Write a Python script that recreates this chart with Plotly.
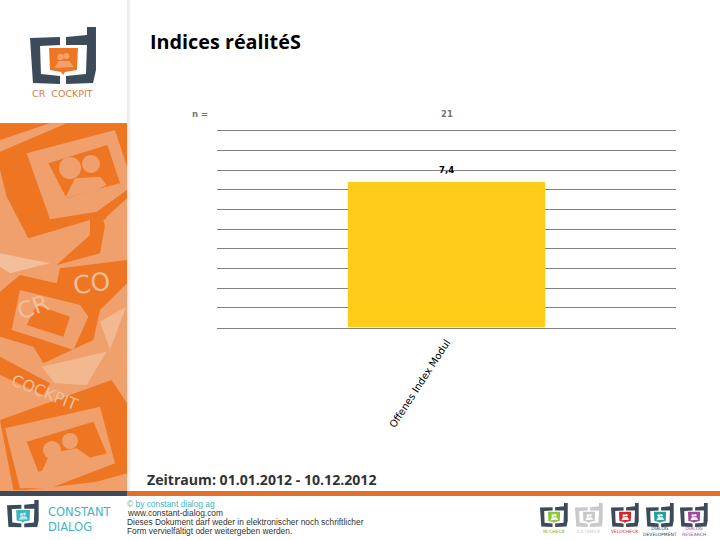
import plotly.graph_objects as go

categories = ["Offenes Index Modul"]
values = [7.4]
value_labels = ["7,4"]
n_label = "n ="
n_values = ["21"]
y_ticks = list(range(0, 11))

ORANGE = "#EE7623"
ORANGE_LIGHT = "#EFA06C"
ORANGE_PALE = "#F3BE9A"
SLATE = "#3C4A5A"


def px(x, y):
    return f"{x / 720:.4f}", f"{1 - y / 540:.4f}"


def poly(points, color, layer="below", opacity=1):
    path = "M" + " L".join("{} {}".format(*px(x, y)) for x, y in points) + " Z"
    return dict(type="path", xref="paper", yref="paper", path=path,
                fillcolor=color, line_width=0, layer=layer, opacity=opacity)


def rect(x0, y0, x1, y1, color, opacity=1):
    return poly([(x0, y0), (x1, y0), (x1, y1), (x0, y1)], color, opacity=opacity)


def disc(cx, cy, r, color):
    x0, y0 = px(cx - r, cy + r)
    x1, y1 = px(cx + r, cy - r)
    return dict(type="circle", xref="paper", yref="paper", x0=x0, y0=y0, x1=x1, y1=y1,
                fillcolor=color, line_width=0, layer="below")


def side(points):
    return [(x / 3, 120 + y / 3) for x, y in points]


def person(x, y, s, color):
    # two heads and shoulders, (x, y) is the centre of the screen
    return [
        disc(x - 3 * s, y - 3 * s, 3.2 * s, color),
        disc(x + 3 * s, y - 4 * s, 3 * s, color),
        poly([(x - 9 * s, y + 8 * s), (x - 5 * s, y + 1 * s), (x + 6 * s, y + 1 * s),
              (x + 10 * s, y + 7 * s)], color),
    ]


def logo(x, y, s, dark, accent, light):
    # "cd" mark, x/y is the top left corner of the d stem box
    def p(pts):
        return [(x + a * s, y + b * s) for a, b in pts]
    out = [
        poly(p([(0, 11), (30, 10), (30, 18), (10, 19), (11, 47), (30, 49), (30, 57), (3, 56)]), dark),
        poly(p([(36, 10), (57, 8), (57, 0), (66, 0), (66, 43), (63, 56), (36, 57), (36, 49),
                (56, 47), (57, 18), (36, 18)]), dark),
        poly(p([(19, 21), (48, 21), (47, 43), (35, 45), (33, 48), (31, 45), (20, 43)]), accent),
    ]
    return out + person(x + 33.5 * s, y + 33 * s, s, light)


shapes = [
    # sidebar
    rect(127, 0, 129, 491, "#EAEAEA"),
    rect(129, 0, 131, 491, "#F7F7F7"),
    rect(0, 123, 127, 491, ORANGE_LIGHT),
    poly(side([(0, 10), (150, 10), (0, 60)]), ORANGE),
    poly(side([(200, 10), (381, 10), (381, 235), (320, 290), (300, 400), (170, 435), (270, 345),
               (270, 300), (85, 355), (20, 230), (0, 150), (0, 95)]), ORANGE),
    poly(side([(80, 100), (345, 30), (381, 140), (381, 210), (290, 275), (150, 298)]), ORANGE_LIGHT),
    poly(side([(145, 130), (322, 75), (360, 190), (290, 208), (200, 235)]), ORANGE),
    disc(70, 168, 11, ORANGE_LIGHT),
    disc(91, 164, 9, ORANGE_LIGHT),
    poly(side([(195, 235), (225, 175), (300, 170), (320, 195), (290, 210)]), ORANGE_LIGHT),
    poly(side([(310, 300), (381, 265), (381, 365), (330, 380)]), ORANGE_LIGHT),
    poly(side([(0, 400), (150, 430), (30, 460), (0, 440)]), ORANGE_PALE),
    # middle bubble
    poly(side([(0, 515), (60, 465), (170, 490), (180, 445), (381, 420), (381, 490), (300, 570),
               (280, 660), (130, 730), (100, 680), (0, 650)]), ORANGE),
    poly(side([(35, 630), (60, 510), (240, 555), (265, 590), (220, 690), (130, 660)]), ORANGE_LIGHT),
    poly(side([(80, 615), (110, 555), (210, 590), (190, 650)]), ORANGE),
    poly(side([(300, 605), (378, 560), (330, 690)]), ORANGE_PALE, opacity=0.8),
    poly(side([(125, 740), (320, 695), (260, 795), (165, 790)]), ORANGE_PALE, opacity=0.8),
    # lower left strips and bubble
    poly(side([(0, 710), (150, 790), (130, 825), (0, 765)]), ORANGE),
    poly(side([(0, 900), (335, 780), (381, 850), (381, 1060), (290, 1085), (80, 1110), (40, 1110)]), ORANGE),
    poly(side([(15, 925), (300, 860), (345, 1030), (150, 1105), (60, 1105)]), ORANGE_LIGHT),
    poly(side([(80, 965), (280, 905), (320, 1000), (115, 1055)]), ORANGE),
    disc(52, 450, 9, ORANGE_LIGHT),
    disc(70, 441, 8, ORANGE_LIGHT),
    poly(side([(125, 1055), (150, 1000), (230, 985), (280, 1020)]), ORANGE_LIGHT),
    # footer rules
    rect(0, 491, 127, 496, SLATE),
    rect(127, 491, 720, 496, "#E0702A"),
]

shapes += logo(30, 27, 1.0, SLATE, ORANGE, ORANGE_LIGHT)
shapes += logo(7, 500, 0.48, SLATE, "#3FB5C4", "#BFE6EC")

small_logo_x = [540, 575, 611, 646, 680]
small_logo_accent = ["#8CC63F", "#C8C8C8", "#D8232A", "#1FA29A", "#A2479B"]
small_logo_label = ["IN CHECK", "CX CHECK", "VELOCHECK", "DIALOG<br>DEVELOPMENT", "DIALOG<br>RESEARCH"]
small_logo_text = ["#6FA52F", "#C8C8C8", "#D8232A", "#2C3E50", "#A2479B"]
for lx, accent in zip(small_logo_x, small_logo_accent):
    dark = "#C9C9C9" if accent == "#C8C8C8" else SLATE
    shapes += logo(lx, 503, 0.42, dark, accent, "#FFFFFF")

annotations = [
    dict(text="<b>Indices réalitéS</b>", x=148 / 720, y=1 - 42 / 540, xanchor="left", yanchor="middle",
         font=dict(family="Open Sans", size=19.8, color="#000000")),
    dict(text="CR  COCKPIT", x=63 / 720, y=1 - 93 / 540, xanchor="center", yanchor="middle",
         font=dict(family="DejaVu Sans", size=9.5, color="#D97B45")),
    dict(text=f"<b>{n_label}</b>", x=200 / 720, y=1 - 114 / 540, xanchor="center", yanchor="middle",
         font=dict(family="DejaVu Sans", size=8.5, color="#777777")),
    dict(text="<b>Zeitraum: 01.01.2012 - 10.12.2012</b>", x=145 / 720, y=1 - 479 / 540, xanchor="left",
         yanchor="middle", font=dict(family="Open Sans", size=14.1, color="#333333")),
    dict(text="CONSTANT", x=46 / 720, y=1 - 512 / 540, xanchor="left", yanchor="middle",
         font=dict(family="DejaVu Sans", size=11.5, color="#3FB5C4")),
    dict(text="DIALOG", x=46 / 720, y=1 - 527 / 540, xanchor="left", yanchor="middle",
         font=dict(family="DejaVu Sans", size=11.5, color="#3FB5C4")),
    # watermark lettering in the sidebar
    dict(text="CO", x=91 / 720, y=1 - 283 / 540, xanchor="center", yanchor="middle", textangle=-8,
         font=dict(family="DejaVu Sans", size=25, color=ORANGE_PALE)),
    dict(text="CR", x=33 / 720, y=1 - 307 / 540, xanchor="center", yanchor="middle", textangle=-20,
         font=dict(family="DejaVu Sans", size=23, color=ORANGE_PALE)),
    dict(text="COCKPIT", x=45 / 720, y=1 - 392 / 540, xanchor="center", yanchor="middle", textangle=22,
         font=dict(family="DejaVu Sans", size=16, color=ORANGE_PALE)),
]
footer_lines = [
    ("© by constant dialog ag", "#3FB5C4", 504),
    ("www.constant-dialog.com", "#333333", 513),
    ("Dieses Dokument darf weder in elektronischer noch schriftlicher", "#333333", 522),
    ("Form vervielfältigt oder weitergeben werden.", "#333333", 531),
]
for line, color, ly in footer_lines:
    annotations.append(dict(text=line, x=125 / 720, y=1 - ly / 540, xanchor="left", yanchor="middle",
                            font=dict(family="Liberation Sans", size=8.4, color=color)))
for lx, label, color in zip(small_logo_x, small_logo_label, small_logo_text):
    annotations.append(dict(text=label, x=(lx + 14) / 720, y=1 - 531 / 540, xanchor="center", yanchor="middle",
                            font=dict(family="DejaVu Sans", size=4.5, color=color)))
for cat, n, val, lab in zip(categories, n_values, values, value_labels):
    annotations.append(dict(text=f"<b>{n}</b>", x=cat, xref="x", y=1 - 114 / 540, xanchor="center",
                            yanchor="middle", font=dict(family="DejaVu Sans", size=8.5, color="#777777")))
    annotations.append(dict(text=f"<b>{lab}</b>", x=cat, xref="x", y=val, yref="y", yshift=12,
                            xanchor="center", yanchor="middle",
                            font=dict(family="DejaVu Sans", size=8.5, color="#000000")))

for a in annotations:
    a.setdefault("xref", "paper")
    a.setdefault("yref", "paper")
    a["showarrow"] = False

fig = go.Figure(
    go.Bar(
        x=categories,
        y=values,
        cliponaxis=False,
        width=0.43,
        marker=dict(color="#FFCC19", line_width=0),
    )
)

fig.update_layout(
    width=720,
    height=540,
    margin=dict(l=0, r=0, t=0, b=0),
    paper_bgcolor="#FFFFFF",
    plot_bgcolor="#FFFFFF",
    showlegend=False,
    shapes=shapes,
    annotations=annotations,
    xaxis=dict(
        domain=[217 / 720, 676 / 720],
        range=[-0.5, 0.5],
        showgrid=False,
        zeroline=False,
        showline=True,
        mirror=True,
        linecolor="#808080",
        linewidth=1.3,
        tickangle=-57,
        ticklen=0,
        ticklabelstandoff=4,
        automargin=False,
        tickfont=dict(family="DejaVu Sans", size=10, color="#000000"),
    ),
    yaxis=dict(
        domain=[1 - 327.5 / 540, 1 - 131 / 540],
        range=[0, 10],
        tickvals=y_ticks,
        showticklabels=False,
        showgrid=True,
        gridcolor="#808080",
        gridwidth=1.3,
        zeroline=False,
        automargin=False,
    ),
)

fig.write_html(
    "out.html",
    config=dict(displayModeBar=False),
    post_script="document.body.style.margin='0';",
)
